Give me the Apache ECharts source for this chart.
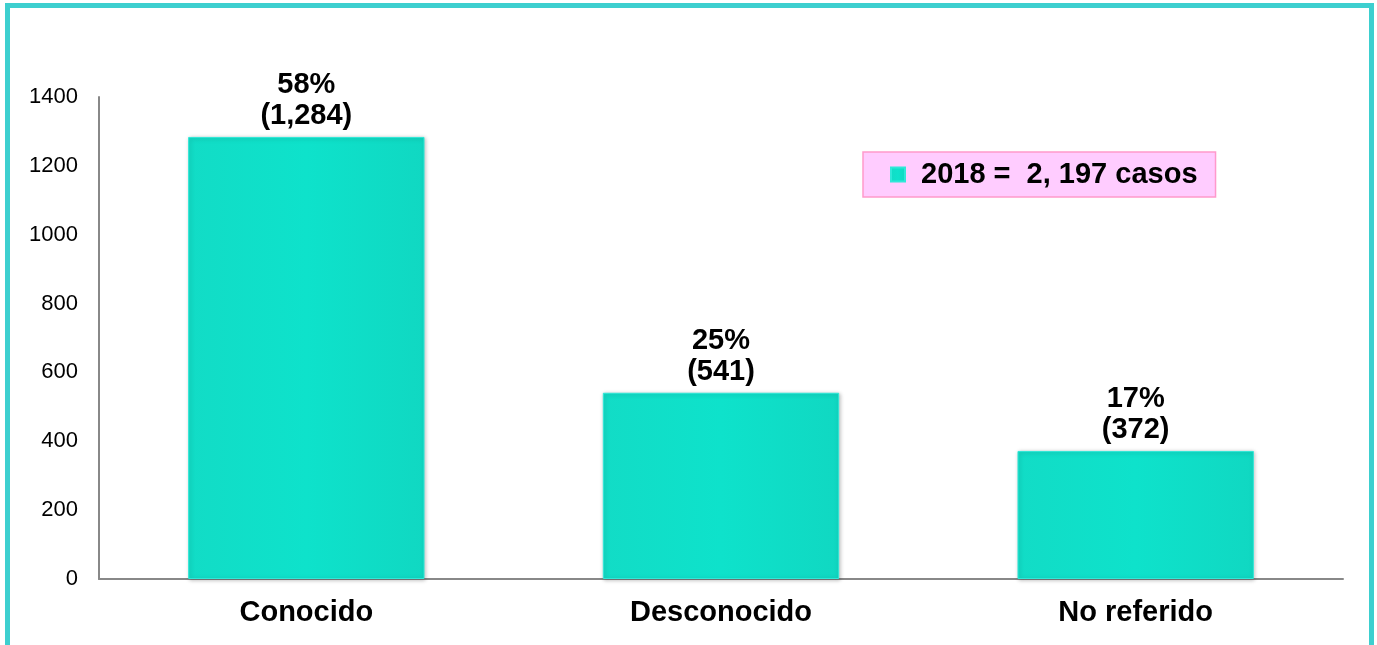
<!DOCTYPE html>
<html>
<head>
<meta charset="utf-8">
<script src="https://cdn.jsdelivr.net/npm/echarts@6/dist/echarts.min.js"></script>
<style>
html,body{margin:0;padding:0;background:#fff;width:1377px;height:645px;overflow:hidden;}
#frame{position:absolute;left:5px;top:3px;width:1359px;height:700px;border:5px solid #3DCFCF;border-bottom:none;box-sizing:content-box;}
#chart{position:absolute;left:0;top:0;width:1377px;height:645px;}
</style>
</head>
<body>
<div id="frame"></div>
<div id="chart"></div>
<script>
const categories = ['Conocido', 'Desconocido', 'No referido'];
const values = [1284, 541, 372];
const percents = ['58%', '25%', '17%'];
const countLabels = ['(1,284)', '(541)', '(372)'];
const yTicks = { min: 0, max: 1400, interval: 200 };
const seriesName = '2018 =  2, 197 casos';

const chart = echarts.init(document.getElementById('chart'), null, { renderer: 'canvas' });
chart.setOption({
  backgroundColor: 'transparent',
  animation: false,
  grid: { left: 99, right: 34, top: 97, bottom: 66, containLabel: false },
  legend: {
    left: 863, top: 152,
    data: [seriesName],
    backgroundColor: '#FFCCFF',
    borderColor: '#FF99CC',
    borderWidth: 1.5,
    padding: [8, 18, 8, 27],
    itemWidth: 14, itemHeight: 14, itemGap: 10,
    icon: 'rect',
    textStyle: { fontFamily: 'Arial, Liberation Sans', fontSize: 29, fontWeight: 'bold', color: '#000', padding: [0, 0, 0, 11] }
  },
  xAxis: {
    type: 'category',
    data: categories,
    axisLine: { show: true, lineStyle: { color: '#888', width: 2 } },
    axisTick: { show: false },
    axisLabel: { fontFamily: 'Arial, Liberation Sans', fontSize: 29, fontWeight: 'bold', color: '#000', margin: 19 }
  },
  yAxis: {
    type: 'value',
    min: yTicks.min, max: yTicks.max, interval: yTicks.interval,
    splitLine: { show: false },
    axisLine: { show: true, lineStyle: { color: '#888', width: 2 } },
    axisTick: { show: false },
    axisLabel: { fontFamily: 'Arial, Liberation Sans', fontSize: 22, color: '#000', margin: 21, formatter: v => String(v) }
  },
  series: [{
    name: seriesName,
    type: 'bar',
    data: values,
    barWidth: '57%',
    itemStyle: {
      color: new echarts.graphic.LinearGradient(0, 0, 1, 0, [
        { offset: 0, color: '#12DCC6' },
        { offset: 0.5, color: '#0EE2CB' },
        { offset: 1, color: '#10D8C2' }
      ]),
      borderColor: '#2FE8D8',
      borderWidth: 1,
      shadowColor: 'rgba(0,0,0,0.25)',
      shadowBlur: 4,
      shadowOffsetX: 1,
      shadowOffsetY: 1
    },
    label: {
      show: true,
      position: 'top',
      distance: 5,
      fontFamily: 'Arial, Liberation Sans',
      fontSize: 29,
      fontWeight: 'bold',
      color: '#000',
      lineHeight: 31,
      formatter: p => percents[p.dataIndex] + '\n' + countLabels[p.dataIndex]
    }
  }]
});
</script>
</body>
</html>
